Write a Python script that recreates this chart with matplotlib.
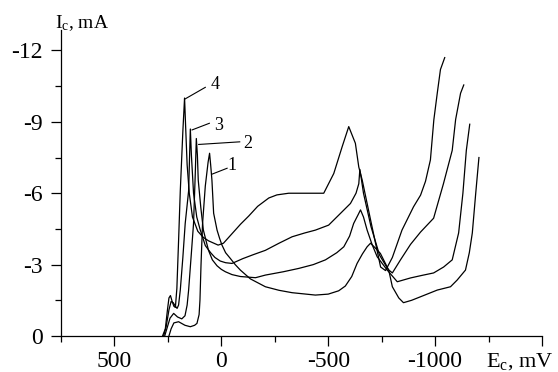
import matplotlib
matplotlib.use("Agg")
import matplotlib.pyplot as plt
from matplotlib.ticker import FixedLocator

plt.rcParams['font.family'] = ['Liberation Serif', 'DejaVu Serif']
plt.rcParams['axes.unicode_minus'] = False
plt.rcParams['mathtext.fontset'] = 'custom'
plt.rcParams['mathtext.rm'] = 'Liberation Serif'
plt.rcParams['mathtext.it'] = 'Liberation Serif:italic'

# Curve 1
E1 = [245, 235, 222, 200, 170, 145, 125, 114, 104, 100, 95, 88, 75, 62, 55, 50, 44, 36, 20, 8, -3,
      -20, -42, -65, -89, -136, -206, -270, -331, -440, -500, -549, -580, -610, -635, -660, -682,
      -698, -720, -744, -783, -800, -830, -852, -890, -932, -1010, -1072, -1103, -1142, -1160,
      -1174, -1190, -1205]
I1 = [0, -0.3, -0.55, -0.6, -0.45, -0.39, -0.45, -0.53, -0.9, -1.5, -3.0, -4.7, -6.3, -7.3, -7.68,
      -7.2, -6.55, -5.16, -4.45, -4.1, -3.82, -3.5, -3.26, -3.0, -2.77, -2.4, -2.07, -1.92, -1.82,
      -1.72, -1.76, -1.9, -2.1, -2.5, -3.05, -3.45, -3.75, -3.9, -3.7, -3.47, -2.77, -2.07, -1.6,
      -1.4, -1.5, -1.65, -1.93, -2.07, -2.35, -2.77, -3.5, -4.33, -6.0, -7.5]

# Curve 2
E2 = [265, 255, 240, 223, 205, 185, 170, 160, 153, 140, 130, 122, 117, 112, 108, 96, 84, 70, 60,
      42, 20, 0, -19, -50, -89, -160, -206, -290, -362, -430, -487, -540, -573, -600, -619, -640,
      -651, -665, -682, -705, -729, -776, -823, -885, -940, -993, -1040, -1080, -1110, -1130,
      -1146, -1162]
I2 = [0, -0.3, -0.75, -0.95, -0.8, -0.72, -0.85, -1.3, -1.93, -3.5, -4.73, -6.8, -8.3, -7.6, -6.55,
      -5.4, -4.45, -3.95, -3.6, -3.2, -2.95, -2.8, -2.7, -2.58, -2.5, -2.45, -2.56, -2.7, -2.84,
      -3.0, -3.2, -3.5, -3.75, -4.2, -4.73, -5.1, -5.3, -5.0, -4.45, -3.85, -3.33, -2.77, -2.28,
      -2.44, -2.55, -2.65, -2.9, -3.2, -4.33, -6.0, -7.8, -8.9]

# Curve 3
E3 = [270, 258, 245, 235, 225, 215, 207, 200, 192, 180, 169, 153, 145, 140, 130, 115, 100, 75, 50,
      30, 5, -20, -50, -100, -150, -206, -270, -331, -390, -440, -502, -557, -604, -630, -643, -648,
      -655, -665, -700, -740, -780, -800, -838, -885, -932, -993, -1039, -1080, -1096, -1119, -1134]
I3 = [0, -0.4, -1.1, -1.45, -1.4, -1.25, -1.16, -1.3, -1.93, -3.3, -4.73, -6.1, -8.7, -7.6, -6.0,
      -5.0, -4.5, -3.8, -3.5, -3.3, -3.15, -3.08, -3.05, -3.25, -3.42, -3.6, -3.9, -4.17, -4.33,
      -4.45, -4.66, -5.15, -5.57, -6.0, -6.4, -7.0, -6.6, -6.0, -4.6, -3.4, -2.8, -2.65, -3.2,
      -3.85, -4.37, -4.95, -6.4, -7.8, -9.1, -10.2, -10.55]

# Curve 4
E4 = [275, 262, 252, 245, 238, 230, 222, 215, 208, 200, 192, 180, 172, 167, 160, 150, 135, 110, 85,
      60, 35, 15, -10, -50, -90, -128, -170, -222, -260, -315, -400, -479, -526, -565, -596, -627,
      -643, -659, -700, -745, -768, -800, -845, -899, -932, -955, -978, -994, -1010, -1025, -1045]
I4 = [0, -0.3, -1.1, -1.6, -1.7, -1.45, -1.25, -1.2, -2.0, -4.0, -6.1, -8.6, -10.0, -8.8, -7.2,
      -6.0, -5.0, -4.4, -4.15, -4.0, -3.9, -3.82, -3.9, -4.3, -4.7, -5.04, -5.45, -5.8, -5.93,
      -6.0, -6.0, -6.0, -6.83, -7.95, -8.8, -8.1, -7.1, -6.55, -4.8, -2.9, -2.75, -3.3, -4.45,
      -5.43, -5.92, -6.5, -7.4, -9.08, -10.2, -11.2, -11.7]

curves = [(E1, I1), (E2, I2), (E3, I3), (E4, I4)]

labels = ['1', '2', '3', '4']
# leader line start (on curve), end, text position
lead_start = [(44, -6.8), (106, -8.05), (137, -8.66), (172, -9.95)]
lead_end = [(-27, -7.05), (-86, -8.16), (56, -8.94), (75, -10.45)]
text_pos = [(-52, -7.15), (-124, -8.1), (14, -8.85), (28, -10.55)]

xticks = [500, 0, -500, -1000, -1500]
xticklabels = ['500', '0', '-500', '-1000', '']
xminor = [750, 250, -250, -750, -1250]
yticks = [0, -3, -6, -9, -12]
yticklabels = ['0', '-3', '-6', '-9', '-12']
yminor = [-1.5, -4.5, -7.5, -10.5]

fig = plt.figure(figsize=(5.58, 3.72), dpi=100)
ax = fig.add_axes([61 / 558, 36 / 372, 481 / 558, 306 / 372])

for E, I in curves:
    ax.plot(E, I, color='black', lw=0.9)

for lab, s, e, t in zip(labels, lead_start, lead_end, text_pos):
    ax.plot([s[0], e[0]], [s[1], e[1]], color='black', lw=0.8)
    ax.text(t[0], t[1], lab, fontsize=13, ha='center', va='center')

ax.set_xlim(750, -1500)
ax.set_ylim(0, -12.86)

ax.set_xticks(xticks)
ax.set_xticklabels(xticklabels)
ax.xaxis.set_minor_locator(FixedLocator(xminor))
ax.set_yticks(yticks)
ax.set_yticklabels(yticklabels)
ax.yaxis.set_minor_locator(FixedLocator(yminor))

for side in ['top', 'right']:
    ax.spines[side].set_visible(False)
for side in ['left', 'bottom']:
    ax.spines[side].set_linewidth(0.9)

ax.tick_params(axis='both', which='major', direction='out', length=7, width=0.9,
               labelsize=17, pad=4)
ax.tick_params(axis='both', which='minor', direction='out', length=4, width=0.9)
ax.tick_params(axis='y', which='major', pad=6)

fig.text(55 / 558, 1 - 28 / 372, r'I$_\mathregular{c}$, mA', fontsize=14, ha='left',
         va='baseline')
fig.text(553 / 558, 1 - 367 / 372, r'E$_\mathregular{c}$, mV', fontsize=16, ha='right',
         va='baseline')

fig.savefig('out.png', dpi=100)
